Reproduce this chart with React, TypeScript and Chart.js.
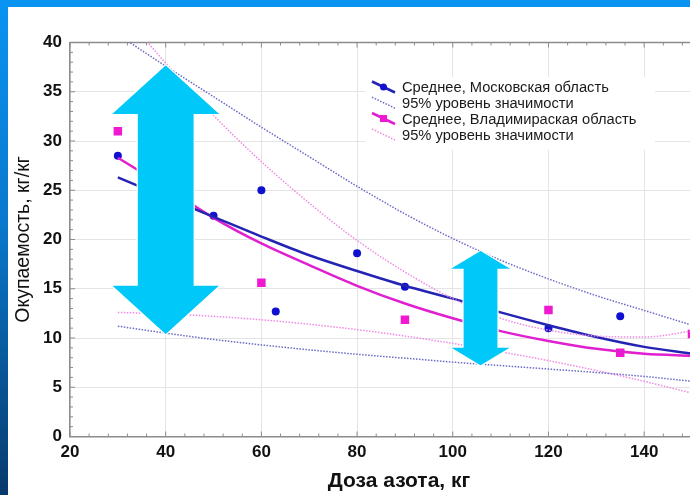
import React, { useEffect, useRef } from "react";
import { Chart, registerables } from "chart.js";

Chart.register(...registerables);

// ---- data ----
const curveX = [30, 40, 50, 60, 70, 80, 90, 100, 110, 120, 130, 140, 150];
const moscowMean = [26.3, 24.3, 22.3, 20.3, 18.4, 16.8, 15.3, 14.0, 12.6, 11.3, 10.1, 9.1, 8.4];
const moscowUpper = [40.8, 37.6, 34.5, 31.4, 28.4, 25.4, 22.6, 20.1, 17.9, 16.0, 14.3, 12.8, 11.3];
const moscowLower = [11.2, 10.5, 9.85, 9.3, 8.8, 8.35, 7.95, 7.55, 7.2, 6.85, 6.5, 6.1, 5.6];
const vladMean = [28.3, 25.3, 22.2, 19.6, 17.4, 15.3, 13.5, 12.0, 10.7, 9.7, 8.9, 8.4, 8.2];
const vladUpper = [43.6, 37.9, 32.6, 27.9, 23.7, 19.9, 16.7, 14.0, 12.0, 10.8, 10.2, 10.1, 10.7];
const vladLower = [12.6, 12.45, 12.2, 11.85, 11.4, 10.85, 10.2, 9.45, 8.6, 7.7, 6.7, 5.6, 4.4];

const moscowDose = [30, 50, 60, 63, 80, 90, 120, 135];
const moscowObs = [28.5, 22.4, 25.0, 12.7, 18.6, 15.2, 11.0, 12.2];
const vladDose = [30, 60, 90, 120, 135, 150];
const vladObs = [31.0, 15.6, 11.85, 12.85, 8.5, 10.4];

const xTickValues = [20, 40, 60, 80, 100, 120, 140];
const yTickValues = [0, 5, 10, 15, 20, 25, 30, 35, 40];

const legendLabels = [
  "Среднее, Московская область",
  "95% уровень значимости",
  "Среднее, Владимираская область",
  "95% уровень значимости",
];
const xTitle = "Доза азота, кг";
const yTitle = "Окупаемость, кг/кг";

// arrow annotations: centre dose, top value, bottom value
const arrowDose = [40, 105.8];
const arrowTop = [37.75, 18.9];
const arrowBottom = [10.3, 7.15];

// ---- styles ----
const BLUE_LINE = "#2424b4";
const BLUE_DOT = "#1010d0";
const BLUE_CI = "#6a6ac8";
const MAG_LINE = "#e020d0";
const MAG_DOT = "#f018d0";
const MAG_CI = "#f08ae4";
const ARROW = "#00c8f8";
const FONT = "'Liberation Sans', Arial, sans-serif";

const arrowShapes = [
  { head: 50, headHalf: 55, shaftHalf: 28.5 },
  { head: 19, headHalf: 31.5, shaftHalf: 17.5 },
];

const pts = (xs: number[], ys: number[]) => xs.map((x, i) => ({ x, y: ys[i] }));

function drawArrow(ctx: CanvasRenderingContext2D, cx: number, yTop: number, yBot: number, s: { head: number; headHalf: number; shaftHalf: number }) {
  const { head, headHalf: hw, shaftHalf: sw } = s;
  ctx.beginPath();
  ctx.moveTo(cx, yTop);
  ctx.lineTo(cx + hw, yTop + head);
  ctx.lineTo(cx + sw, yTop + head);
  ctx.lineTo(cx + sw, yBot - head);
  ctx.lineTo(cx + hw, yBot - head);
  ctx.lineTo(cx, yBot);
  ctx.lineTo(cx - hw, yBot - head);
  ctx.lineTo(cx - sw, yBot - head);
  ctx.lineTo(cx - sw, yTop + head);
  ctx.lineTo(cx - hw, yTop + head);
  ctx.closePath();
  ctx.fillStyle = ARROW;
  ctx.fill();
  ctx.strokeStyle = "#ffffff";
  ctx.lineWidth = 1.2;
  ctx.stroke();
}

const decorPlugin = {
  id: "decor",
  beforeDatasetsDraw(chart: any) {
    const { ctx, chartArea: a, scales } = chart;
    const x = scales.x;
    const y = scales.y;
    ctx.save();
    // top frame line
    ctx.strokeStyle = "#8c8c8c";
    ctx.lineWidth = 1.5;
    ctx.beginPath();
    ctx.moveTo(a.left, a.top);
    ctx.lineTo(a.right + 10, a.top);
    ctx.stroke();
    // minor ticks
    ctx.lineWidth = 1;
    ctx.strokeStyle = "#8c8c8c";
    ctx.beginPath();
    for (let v = 20; v <= 150; v += 4) {
      const px = x.getPixelForValue(v);
      const len = (v - 20) % 20 === 0 ? 5 : 3;
      ctx.moveTo(px, a.top);
      ctx.lineTo(px, a.top + len);
      ctx.moveTo(px, a.bottom);
      ctx.lineTo(px, a.bottom - len);
    }
    for (let v = 0; v <= 40; v += 1) {
      const py = y.getPixelForValue(v);
      const len = v % 5 === 0 ? 5 : 3;
      ctx.moveTo(a.left, py);
      ctx.lineTo(a.left + len, py);
    }
    ctx.stroke();

    // legend box
    const bx = 357, by = 70;
    ctx.fillStyle = "#ffffff";
    ctx.fillRect(bx, by, 290, 73);
    const rows = [80.5, 96.2, 112, 128];
    const sx = 364;
    rows.forEach((yc, i) => {
      const isBlue = i < 2;
      const isMean = i % 2 === 0;
      ctx.save();
      ctx.strokeStyle = isMean ? (isBlue ? BLUE_LINE : MAG_LINE) : isBlue ? BLUE_CI : MAG_CI;
      ctx.lineWidth = isMean ? 2.5 : 1.5;
      if (!isMean) ctx.setLineDash([1.5, 1.5]);
      ctx.beginPath();
      ctx.moveTo(sx, yc - 6);
      ctx.lineTo(sx + 23, yc + 5);
      ctx.stroke();
      ctx.setLineDash([]);
      if (isMean) {
        ctx.fillStyle = isBlue ? BLUE_DOT : MAG_DOT;
        const mx = sx + 11.5, my = yc - 0.5;
        if (isBlue) {
          ctx.beginPath();
          ctx.arc(mx, my, 3.5, 0, Math.PI * 2);
          ctx.fill();
        } else {
          ctx.fillRect(mx - 3.5, my - 3.5, 7, 7);
        }
      }
      ctx.restore();
      ctx.fillStyle = "#1a1a1a";
      ctx.font = `14.7px ${FONT}`;
      ctx.textBaseline = "middle";
      ctx.textAlign = "left";
      ctx.fillText(legendLabels[i], 394, yc + 0.5);
    });

    // x-axis title (centred as in the reference, which is offset from the visible plot)
    ctx.fillStyle = "#111";
    ctx.font = `bold 21px ${FONT}`;
    ctx.textAlign = "center";
    ctx.textBaseline = "middle";
    ctx.fillText(xTitle, 391, 474);
    ctx.restore();
  },
  afterDatasetsDraw(chart: any) {
    const { ctx, scales } = chart;
    const x = scales.x;
    const y = scales.y;
    ctx.save();
    arrowDose.forEach((d, i) => {
      drawArrow(ctx, x.getPixelForValue(d), y.getPixelForValue(arrowTop[i]), y.getPixelForValue(arrowBottom[i]), arrowShapes[i]);
    });
    ctx.restore();
  },
};

export default function App() {
  const ref = useRef<HTMLCanvasElement | null>(null);

  useEffect(() => {
    if (!ref.current) return;
    const ciLine = (data: number[], color: string, label: string) => ({
      label,
      data: pts(curveX, data),
      borderColor: color,
      borderWidth: 1.5,
      borderDash: [1.5, 1.5],
      pointRadius: 0,
      fill: false,
      cubicInterpolationMode: "monotone" as const,
      clip: 0,
    });
    const meanLine = (data: number[], color: string, label: string) => ({
      label,
      data: pts(curveX, data),
      borderColor: color,
      borderWidth: 2.5,
      pointRadius: 0,
      fill: false,
      cubicInterpolationMode: "monotone" as const,
      clip: 0,
    });
    const chart = new Chart(ref.current, {
      type: "line",
      data: {
        datasets: [
          ciLine(moscowUpper, BLUE_CI, "95% (М) верх"),
          ciLine(moscowLower, BLUE_CI, "95% (М) низ"),
          ciLine(vladUpper, MAG_CI, "95% (В) верх"),
          ciLine(vladLower, MAG_CI, "95% (В) низ"),
          meanLine(moscowMean, BLUE_LINE, "Среднее, Московская область"),
          meanLine(vladMean, MAG_LINE, "Среднее, Владимираская область"),
          {
            label: "Московская, наблюдения",
            data: pts(moscowDose, moscowObs),
            showLine: false,
            pointStyle: "circle",
            pointRadius: 4,
            pointBackgroundColor: BLUE_DOT,
            pointBorderColor: BLUE_DOT,
            pointBorderWidth: 0,
          },
          {
            label: "Владимирская, наблюдения",
            data: pts(vladDose, vladObs),
            showLine: false,
            pointStyle: "rect",
            pointRadius: 6,
            pointBackgroundColor: MAG_DOT,
            pointBorderColor: MAG_DOT,
            pointBorderWidth: 0,
          },
        ],
      },
      options: {
        responsive: false,
        animation: false,
        layout: { padding: { top: 35.5, right: 4, left: 0, bottom: 0 } },
        plugins: { legend: { display: false }, tooltip: { enabled: false } },
        scales: {
          x: {
            type: "linear",
            min: 20,
            max: 150,
            afterBuildTicks: (s: any) => {
              s.ticks = xTickValues.map((v) => ({ value: v }));
            },
            afterFit: (s: any) => {
              s.height = 58.5;
            },
            ticks: {
              padding: 6,
              color: "#111",
              font: { family: FONT, size: 17, weight: "bold" },
            },
            grid: { color: "#e4e4e4", lineWidth: 1, drawTicks: false },
            border: { color: "#8c8c8c", width: 1.5 },
            title: { display: false, text: xTitle },
          },
          y: {
            type: "linear",
            min: 0,
            max: 40,
            afterBuildTicks: (s: any) => {
              s.ticks = yTickValues.map((v) => ({ value: v }));
            },
            afterFit: (s: any) => {
              s.width = 62;
            },
            ticks: {
              padding: 8,
              color: "#111",
              font: { family: FONT, size: 17, weight: "bold" },
            },
            grid: { color: "#e4e4e4", lineWidth: 1, drawTicks: false },
            border: { color: "#8c8c8c", width: 1.5 },
            title: {
              display: true,
              text: yTitle,
              color: "#111",
              font: { family: FONT, size: 19.5, weight: "normal" },
              padding: { top: 4, bottom: 0 },
            },
          },
        },
      },
      plugins: [decorPlugin],
    } as any);
    return () => chart.destroy();
  }, []);

  return (
    <div
      style={{
        position: "fixed",
        left: 0,
        top: 0,
        width: 690,
        height: 495,
        overflow: "hidden",
        background: "linear-gradient(to bottom, #0a94f2 0%, #0a78cc 45%, #073a6c 100%)",
      }}
    >
      <div style={{ position: "absolute", left: 8, top: 7, width: 700, height: 488, background: "#ffffff" }}>
        <canvas ref={ref} width={690} height={488} style={{ display: "block" }} />
      </div>
    </div>
  );
}
